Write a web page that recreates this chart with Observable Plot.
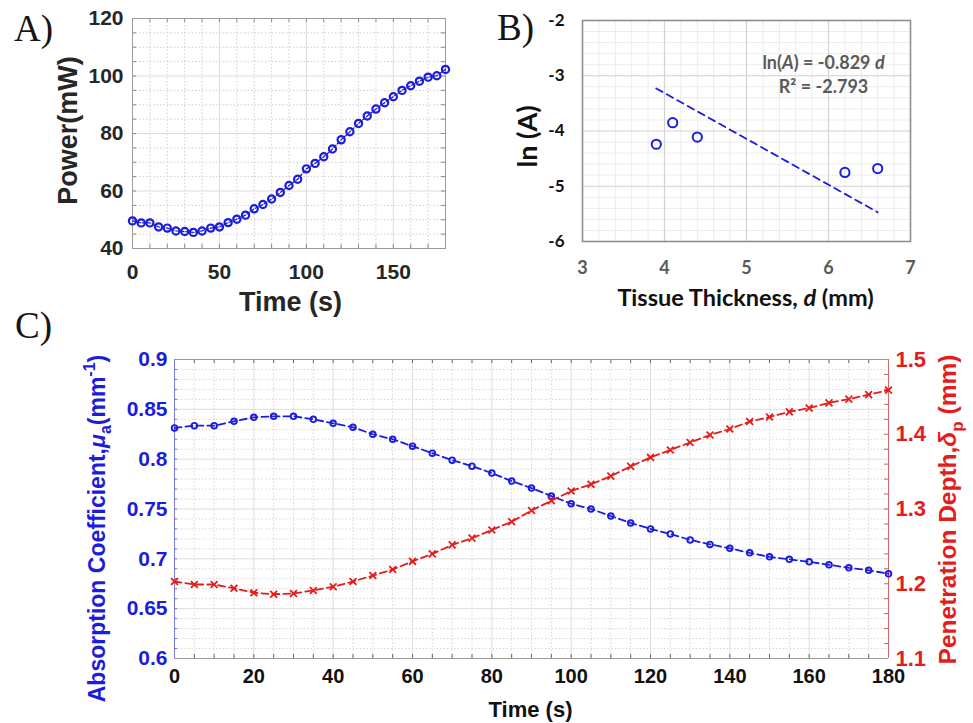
<!DOCTYPE html>
<html><head><meta charset="utf-8">
<script src="https://cdn.jsdelivr.net/npm/d3@7"></script>
<script src="https://cdn.jsdelivr.net/npm/@observablehq/plot@0.6"></script>
<style>
body{margin:0;background:#fff;}
#root{position:relative;width:973px;height:723px;overflow:hidden;background:#fff;}
.panel{position:absolute;}
.panel svg{display:block;max-width:none;}
.tag{position:absolute;font-family:"Liberation Serif","DejaVu Serif",serif;font-size:37px;color:#151515;line-height:1;white-space:nowrap;}
</style></head><body><div id="root"></div>
<script>
// ---------- Panel A: power vs time ----------
const timeA = [0,5,10,15,20,25,30,35,40,45,50,55,60,65,70,75,80,85,90,95,100,105,110,115,120,125,130,135,140,145,150,155,160,165,170,175,180];
const powerA = [49.6,48.9,48.9,47.5,47.1,46.1,45.9,45.6,46.1,47.1,47.5,49.0,50.2,51.6,53.8,55.3,57.2,59.5,61.9,64.1,67.7,69.6,71.9,74.6,77.8,80.6,83.5,86.1,88.5,90.7,92.8,95.0,96.6,98.2,99.6,100.1,102.3];
const aXTicks = [0,50,100,150];
const aYTicks = [40,60,80,100,120];
const aXLabel = "Time (s)";
const aYLabel = "Power(mW)";

// ---------- Panel B: ln(A) vs tissue thickness ----------
const thicknessB = [3.9,4.1,4.4,6.2,6.6];
const lnAB = [-4.24,-3.85,-4.11,-4.75,-4.68];
const fitXB = [3.9,6.6];
const fitYB = [-3.23,-5.47];
const fitSlope = "-0.829";
const fitR2 = "-2.793";
const bXTicks = [3,4,5,6,7];
const bXTickLabels = ["3","4","5","6","7"];
const bYTicks = [-6,-5,-4,-3,-2];
const bYTickLabels = ["-6","-5","-4","-3","-2"];
const bXLabel = "Tissue Thickness, d (mm)";
const bYLabel = "ln (A)";
const bEq1 = "ln(A) = " + fitSlope + " d";
const bEq2 = "R\u00B2 = " + fitR2;

// ---------- Panel C: absorption coefficient & penetration depth ----------
const timeC = [0,5,10,15,20,25,30,35,40,45,50,55,60,65,70,75,80,85,90,95,100,105,110,115,120,125,130,135,140,145,150,155,160,165,170,175,180];
const absorptionC = [0.8313,0.8336,0.8336,0.838,0.842,0.843,0.843,0.840,0.836,0.832,0.825,0.820,0.813,0.806,0.799,0.793,0.786,0.778,0.771,0.763,0.7553,0.750,0.743,0.736,0.730,0.725,0.719,0.7145,0.7105,0.706,0.702,0.6995,0.697,0.694,0.691,0.6885,0.685];
const penetrationC = [1.203,1.199,1.199,1.194,1.188,1.186,1.187,1.191,1.196,1.203,1.211,1.219,1.230,1.240,1.252,1.261,1.272,1.283,1.298,1.311,1.324,1.333,1.344,1.357,1.369,1.379,1.389,1.399,1.407,1.417,1.423,1.430,1.435,1.442,1.447,1.453,1.459];
const cXTicks = [0,20,40,60,80,100,120,140,160,180];
const cLeftTicks = [0.6,0.65,0.7,0.75,0.8,0.85,0.9];
const cLeftTickLabels = ["0.6","0.65","0.7","0.75","0.8","0.85","0.9"];
const cRightTicks = [1.1,1.2,1.3,1.4,1.5];
const cRightTickLabels = ["1.1","1.2","1.3","1.4","1.5"];
const cLeftDomain = [0.6,0.9];
const cRightDomain = [1.1,1.5];
const cXLabel = "Time (s)";
const cLeftLabel = "Absorption Coefficient,\u03BCa(mm-1)";
const cRightLabel = "Penetration Depth,\u03B4p (mm)";

const ARIAL = '"Liberation Sans", Arial, Helvetica, sans-serif';
const CALIBRI = 'Lato, "Open Sans", sans-serif';
const BLUE = "#1c1cdc";
const RED = "#e51c1c";

const richText = {
  [bEq1]: 'ln(<tspan font-style="italic">A</tspan>) = ' + fitSlope + ' <tspan font-style="italic">d</tspan>',
  [bXLabel]: 'Tissue Thickness, <tspan font-style="italic">d</tspan> (mm)',
  [cLeftLabel]: 'Absorption Coefficient,<tspan font-style="italic">\u03BC</tspan><tspan dy="6" font-size="16">a</tspan><tspan dy="-6">(mm</tspan><tspan dy="-10" font-size="16">-1</tspan><tspan dy="10">)</tspan>',
  [cRightLabel]: 'Penetration Depth,<tspan font-style="italic">\u03B4</tspan><tspan dy="7" font-size="17">p</tspan><tspan dy="-7"> (mm)</tspan>'
};
function enrich(svg) {
  d3.select(svg).selectAll("text").each(function () {
    const r = richText[this.textContent];
    if (r) this.innerHTML = r;
  });
  return svg;
}
const labelOf = (ticks, labels) => d => labels[ticks.findIndex(v => Math.abs(v - d) < 1e-9)];
const centered = {textAnchor: "middle", lineAnchor: "middle"};

const root = document.getElementById("root");
function place(el, left, top, w, h) {
  const d = document.createElement("div");
  d.className = "panel";
  d.style.left = left + "px"; d.style.top = top + "px";
  d.style.width = w + "px"; d.style.height = h + "px";
  d.appendChild(el);
  root.appendChild(d);
}
function tag(txt, left, top) {
  const d = document.createElement("div");
  d.className = "tag"; d.textContent = txt;
  d.style.left = left + "px"; d.style.top = top + "px";
  root.appendChild(d);
}

// ---------- Build A ----------
{
  const W = 460, H = 320, mL = 132, mR = 15, mT = 18, mB = 72;
  const pw = W - mL - mR, ph = H - mT - mB;
  const data = timeA.map((t, i) => ({t, p: powerA[i]}));
  const minorX = d3.range(10, 180, 10).filter(v => v % 50 !== 0);
  const minorY = d3.range(45, 120, 5).filter(v => v % 20 !== 0);
  const svg = Plot.plot({
    width: W, height: H, marginLeft: mL, marginRight: mR, marginTop: mT, marginBottom: mB,
    x: {domain: [0, 180]}, y: {domain: [40, 120]},
    style: {fontFamily: ARIAL, fontWeight: "bold", fontSize: "21px", background: "transparent", overflow: "visible"},
    marks: [
      Plot.ruleX(minorX, {stroke: "#cfcfcf", strokeDasharray: "1.5,2"}),
      Plot.ruleY(minorY, {stroke: "#cfcfcf", strokeDasharray: "1.5,2"}),
      Plot.ruleX(aXTicks.slice(1), {stroke: "#dcdcdc"}),
      Plot.ruleY(aYTicks.slice(1, -1), {stroke: "#dcdcdc"}),
      Plot.tickX(d3.range(0, 181, 10), {insetTop: ph - 4, stroke: "#8a8a8a"}),
      Plot.tickX(d3.range(0, 181, 10), {insetBottom: ph - 4, stroke: "#8a8a8a"}),
      Plot.tickY(d3.range(40, 121, 5), {insetRight: pw - 4, stroke: "#8a8a8a"}),
      Plot.tickY(d3.range(40, 121, 5), {insetLeft: pw - 4, stroke: "#8a8a8a"}),
      Plot.frame({stroke: "#9a9a9a"}),
      Plot.line(data, {x: "t", y: "p", stroke: BLUE, strokeWidth: 1.3, strokeDasharray: "3,2"}),
      Plot.dot(data, {x: "t", y: "p", r: 3.6, stroke: BLUE, strokeWidth: 2.2}),
      Plot.axisX({ticks: aXTicks, tickSize: 0, tickPadding: 16, fontSize: 21, fontWeight: "bold", fill: "#262626", label: null}),
      Plot.axisY({ticks: aYTicks, tickSize: 0, tickPadding: 9, fontSize: 21, fontWeight: "bold", fill: "#262626", label: null}),
      Plot.text([aXLabel], {text: d => d, frameAnchor: "bottom", ...centered, dy: 54, dx: 1.5, fontSize: 27, fontWeight: "bold", fill: "#262626"}),
      Plot.text([aYLabel], {text: d => d, frameAnchor: "left", ...centered, dx: -64, dy: -3, rotate: -90, fontSize: 27, fontWeight: "bold", fill: "#262626"})
    ]
  });
  place(enrich(svg), 0, 0, W, H);
}

// ---------- Build B ----------
{
  const W = 493, H = 320, mL = 102, mR = 63, mT = 20, mB = 79;
  const pts = thicknessB.map((d, i) => ({d, v: lnAB[i]}));
  const fit = fitXB.map((d, i) => ({d, v: fitYB[i]}));
  const minorX = d3.range(3.2, 7, 0.2).filter(v => Math.abs(v - Math.round(v)) > 0.01);
  const minorY = d3.range(-5.8, -2, 0.2).filter(v => Math.abs(v - Math.round(v)) > 0.01);
  const svg = Plot.plot({
    width: W, height: H, marginLeft: mL, marginRight: mR, marginTop: mT, marginBottom: mB,
    x: {domain: [3, 7]}, y: {domain: [-6, -2]},
    style: {fontFamily: CALIBRI, fontWeight: "bold", fontSize: "17px", background: "transparent", overflow: "visible"},
    marks: [
      Plot.ruleX(minorX, {stroke: "#ececec"}),
      Plot.ruleY(minorY, {stroke: "#ececec"}),
      Plot.ruleX(bXTicks.slice(1, -1), {stroke: "#d2d2d2", strokeWidth: 1.2}),
      Plot.ruleY(bYTicks.slice(1, -1), {stroke: "#d2d2d2", strokeWidth: 1.2}),
      Plot.frame({stroke: "#8e8e8e", strokeWidth: 1.6}),
      Plot.line(fit, {x: "d", y: "v", stroke: BLUE, strokeWidth: 1.8, strokeDasharray: "7,5"}),
      Plot.dot(pts, {x: "d", y: "v", r: 4.6, stroke: BLUE, strokeWidth: 2}),
      Plot.text([bEq1], {text: d => d, frameAnchor: "top-right", ...centered, dx: -87, dy: 43, fontSize: 18, fontWeight: "bold", fill: "#5a5a5a"}),
      Plot.text([bEq2], {text: d => d, frameAnchor: "top-right", ...centered, dx: -87, dy: 67, fontSize: 18, fontWeight: "bold", fill: "#5a5a5a"}),
      Plot.axisX({ticks: bXTicks, tickFormat: labelOf(bXTicks, bXTickLabels), tickSize: 0, tickPadding: 20, fontSize: 18, fontWeight: "bold", fill: "#5a5a5a", label: null}),
      Plot.axisY({ticks: bYTicks, tickFormat: labelOf(bYTicks, bYTickLabels), tickSize: 0, tickPadding: 18, fontSize: 17, fontWeight: "bold", fill: "#111", label: null}),
      Plot.text([bXLabel], {text: d => d, frameAnchor: "bottom", ...centered, dy: 57, dx: -1, fontSize: 23.5, fontWeight: "bold", fill: "#111"}),
      Plot.text([bYLabel], {text: d => d, frameAnchor: "left", ...centered, dx: -54, dy: 5.5, rotate: -90, fontSize: 27, fontWeight: "bold", fill: "#111"})
    ]
  });
  place(enrich(svg), 480, 0, W, H);
}

// ---------- Build C ----------
{
  const W = 973, H = 393, mL = 174, mR = 85, mT = 29, mB = 65;
  const pw = W - mL - mR, ph = H - mT - mB;
  const toLeft = d3.scaleLinear().domain(cRightDomain).range(cLeftDomain);
  const abs = timeC.map((t, i) => ({t, v: absorptionC[i]}));
  const pen = timeC.map((t, i) => ({t, v: toLeft(penetrationC[i])}));
  const minorX = d3.range(5, 180, 5).filter(v => v % 20 !== 0);
  const majorX = cXTicks.slice(1, -1);
  const minorY = d3.range(61, 90, 1).filter(v => v % 5 !== 0).map(v => v / 100);
  const majorY = cLeftTicks.slice(1, -1);
  const rightTickPos = cRightTicks.map(toLeft);
  const rightMinor = d3.range(110, 151, 2).map(v => toLeft(v / 100));
  const svg = Plot.plot({
    width: W, height: H, marginLeft: mL, marginRight: mR, marginTop: mT, marginBottom: mB,
    x: {domain: [0, 180]}, y: {domain: cLeftDomain},
    style: {fontFamily: ARIAL, fontWeight: "bold", fontSize: "20px", background: "transparent", overflow: "visible"},
    marks: [
      Plot.ruleX(minorX, {stroke: "#d6d6d6", strokeDasharray: "1.5,2"}),
      Plot.ruleY(minorY, {stroke: "#d6d6d6", strokeDasharray: "1.5,2"}),
      Plot.ruleX(majorX, {stroke: "#dedede"}),
      Plot.ruleY(majorY, {stroke: "#dedede"}),
      Plot.tickX(d3.range(0, 181, 5), {insetTop: ph - 4, stroke: "#666"}),
      Plot.tickX(d3.range(0, 181, 5), {insetBottom: ph - 4, stroke: "#666"}),
      Plot.tickY(d3.range(60, 91, 1).map(v => v / 100), {insetRight: pw - 3, stroke: "#6b6bd6"}),
      Plot.tickY(rightMinor, {insetLeft: pw - 4, stroke: "#d65b5b"}),
      Plot.ruleY(cLeftDomain, {stroke: "#9a9a9a"}),
      Plot.ruleX([0], {stroke: "#7a7ad8"}),
      Plot.ruleX([180], {stroke: "#d86a6a"}),
      Plot.line(abs, {x: "t", y: "v", stroke: BLUE, strokeWidth: 1.8, strokeDasharray: "7,4"}),
      Plot.dot(abs, {x: "t", y: "v", r: 2.8, stroke: BLUE, strokeWidth: 1.9}),
      Plot.line(pen, {x: "t", y: "v", stroke: RED, strokeWidth: 1.8, strokeDasharray: "7,4"}),
      Plot.dot(pen, {x: "t", y: "v", r: 3.2, symbol: "times", stroke: RED, strokeWidth: 1.8}),
      Plot.axisX({ticks: cXTicks, tickSize: 0, tickPadding: 10, fontSize: 20, fontWeight: "bold", fill: "#111", label: null}),
      Plot.axisY({ticks: cLeftTicks, tickFormat: labelOf(cLeftTicks, cLeftTickLabels), tickSize: 0, tickPadding: 7, fontSize: 21, fontWeight: "bold", fill: BLUE, label: null}),
      Plot.axisY({ticks: rightTickPos, anchor: "right", tickFormat: labelOf(rightTickPos, cRightTickLabels), tickSize: 0, tickPadding: 7, fontSize: 22, fontWeight: "bold", fill: RED, label: null}),
      Plot.text([cXLabel], {text: d => d, frameAnchor: "bottom", ...centered, dy: 51, dx: -1, fontSize: 22, fontWeight: "bold", fill: "#111"}),
      Plot.text([cLeftLabel], {text: d => d, frameAnchor: "left", ...centered, dx: -77, dy: 19.5, rotate: -90, fontSize: 23, fontWeight: "bold", fill: BLUE}),
      Plot.text([cRightLabel], {text: d => d, frameAnchor: "right", ...centered, dx: 60, dy: 0.5, rotate: -90, fontSize: 24.5, fontWeight: "bold", fill: RED})
    ]
  });
  place(enrich(svg), 0, 330, W, H);
}

tag("A)", 14, 10);
tag("B)", 497, 9);
tag("C)", 15, 307);
</script>
</body></html>
